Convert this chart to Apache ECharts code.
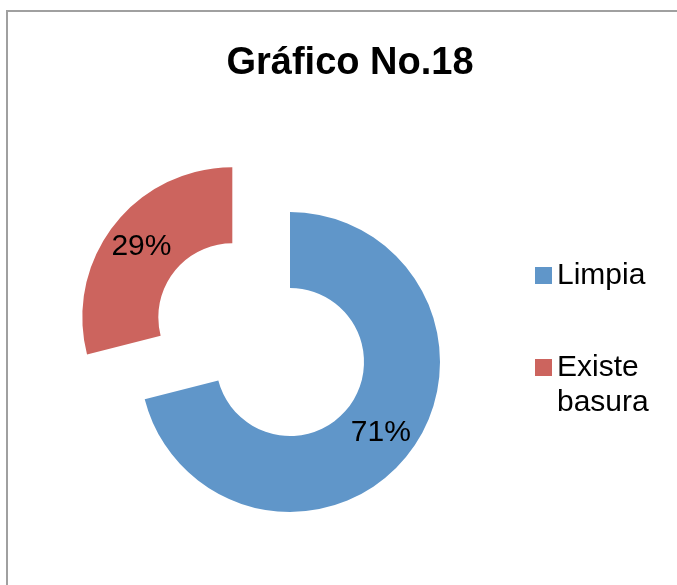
<!DOCTYPE html>
<html>
<head>
<meta charset="utf-8">
<title>Gráfico No.18</title>
<script src="https://cdn.jsdelivr.net/npm/echarts@6/dist/echarts.min.js"></script>
<style>
  html, body { margin: 0; padding: 0; background: #fff; }
  #chart { width: 677px; height: 585px; }
</style>
</head>
<body>
<div id="chart"></div>
<script>
// datos del gráfico
const categories = ["Limpia", "Existe basura"]
const values = [71, 29]
const colors = ["#6096c9", "#cc645e"]

const chart = echarts.init(document.getElementById("chart"))

const pieData = categories.map((name, i) => ({
  name: name,
  value: values[i],
  selected: i === 1, // la porción de basura va separada
  itemStyle: { color: colors[i] }
}))

const option = {
  animation: false,
  title: {
    text: "Gráfico No.18",
    left: 345,
    textAlign: "center",
    top: 40,
    textStyle: {
      fontFamily: "Liberation Sans, Arial, sans-serif",
      fontWeight: "bold",
      fontSize: 38,
      color: "#000"
    }
  },
  graphic: [{
    type: "rect",
    shape: { x: 7, y: 11, width: 700, height: 620 },
    style: { fill: "none", stroke: "#a0a0a0", lineWidth: 2 },
    silent: true
  }],
  legend: {
    orient: "vertical",
    left: 530,
    top: 253,
    itemWidth: 17,
    itemHeight: 17,
    itemGap: 22,
    icon: "rect",
    selectedMode: false,
    // nombre en dos líneas, con una línea vacía arriba para que el
    // cuadro quede a la altura de la primera línea
    formatter: name => name.indexOf(" ") > 0 ? " \n" + name.replace(" ", "\n") : name,
    textStyle: {
      fontFamily: "Liberation Sans, Arial, sans-serif",
      fontSize: 30,
      lineHeight: 35,
      color: "#000"
    },
    data: categories
  },
  series: [{
    type: "pie",
    center: [290, 362],
    radius: [74, 150],
    startAngle: 90,
    clockwise: true,
    selectedMode: "single",
    selectedOffset: 73,
    emphasis: { disabled: true },
    label: {
      position: "inside",
      formatter: "{d}%",
      fontFamily: "Liberation Sans, Arial, sans-serif",
      fontSize: 30,
      color: "#000"
    },
    labelLine: { show: false },
    data: pieData
  }]
}

chart.setOption(option)
</script>
</body>
</html>
